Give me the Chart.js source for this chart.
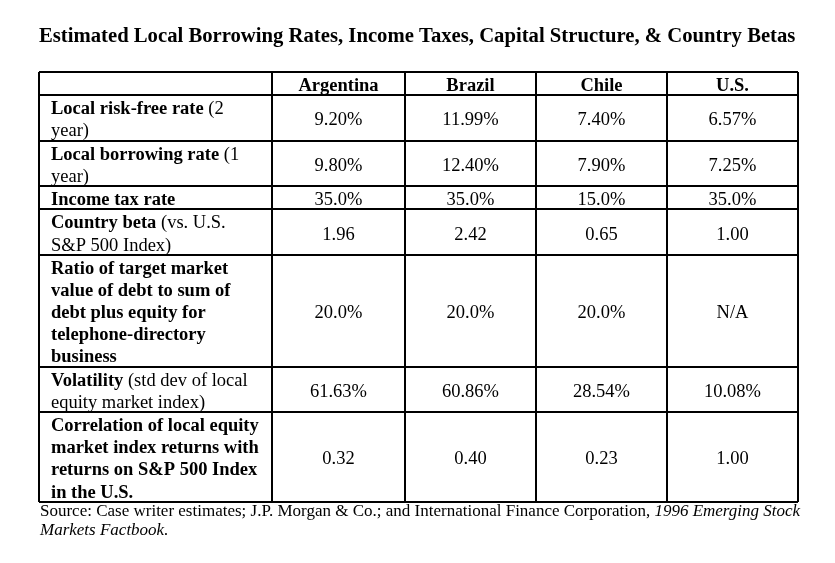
<!DOCTYPE html>
<html><head><meta charset="utf-8">
<script src="https://cdn.jsdelivr.net/npm/chart.js@4.4.1/dist/chart.umd.min.js"></script>
<style>html,body{margin:0;padding:0;background:#fff;} canvas{display:block;}</style>
</head><body>
<canvas id="c" width="835" height="563"></canvas>
<script>
// ---------- data ----------
const titleText = 'Estimated Local Borrowing Rates, Income Taxes, Capital Structure, & Country Betas';
const countries = ['Argentina', 'Brazil', 'Chile', 'U.S.'];
const rowLabels = [
  '**Local risk-free rate** (2\nyear)',
  '**Local borrowing rate** (1\nyear)',
  '**Income tax rate**',
  '**Country beta** (vs. U.S.\nS&P 500 Index)',
  '**Ratio of target market\nvalue of debt to sum of\ndebt plus equity for\ntelephone-directory\nbusiness**',
  '**Volatility** (std dev of local\nequity market index)',
  '**Correlation of local equity\nmarket index returns with\nreturns on S&P 500 Index\nin the U.S.**'
];
const argentina = [9.20, 9.80, 35.0, 1.96, 20.0, 61.63, 0.32];
const brazil    = [11.99, 12.40, 35.0, 2.42, 20.0, 60.86, 0.40];
const chile     = [7.40, 7.90, 15.0, 0.65, 20.0, 28.54, 0.23];
const us        = [6.57, 7.25, 35.0, 1.00, null, 10.08, 1.00];
const rowFormats = ['%2', '%2', '%1', '2', '%1', '%2', '2'];
const sourceLine1 = [['Source: Case writer estimates; J.P. Morgan & Co.; and International Finance Corporation, ', false], ['1996 Emerging Stock', true]];
const sourceLine2 = [['Markets Factbook.', true]];

// ---------- layout / style ----------
const FONT = '"Liberation Serif", "Times New Roman", serif';
const BODY_SIZE = 18.5;
const NOTE_SIZE = 17;
const TEXT_DY = 2.5;
const colWidths = [233, 133, 131, 131, 131];
const rowPad = 0.05;
const labelInset = 12;

const series = [argentina, brazil, chile, us];
const lineCounts = rowLabels.map(s => s.split('\n').length);
const rowEdges = [0, 1 + rowPad];
lineCounts.forEach(n => rowEdges.push(rowEdges[rowEdges.length - 1] + n + rowPad));
const colEdges = [0];
colWidths.forEach(w => colEdges.push(colEdges[colEdges.length - 1] + w));
const mid = (a, i) => (a[i] + a[i + 1]) / 2;

function fmt(v, f) {
  if (v === null || v === undefined) return 'N/A';
  return f.startsWith('%') ? v.toFixed(+f.slice(1)) + '%' : v.toFixed(+f);
}

const datasets = series.map((vals, c) => ({
  label: countries[c],
  data: vals.map((v, r) => ({ x: mid(colEdges, c + 1), y: mid(rowEdges, r + 1), text: fmt(v, rowFormats[r]) })),
  pointRadius: 0,
  pointHoverRadius: 0
}));

const tablePlugin = {
  id: 'tableText',
  afterDatasetsDraw(chart) {
    const { ctx, scales: { x, y } } = chart;
    const unitPx = Math.abs(y.getPixelForValue(1) - y.getPixelForValue(0));
    ctx.save();
    ctx.fillStyle = '#000';
    ctx.textBaseline = 'middle';
    // header
    ctx.font = 'bold ' + BODY_SIZE + 'px ' + FONT;
    ctx.textAlign = 'center';
    countries.forEach((name, c) => {
      ctx.fillText(name, x.getPixelForValue(mid(colEdges, c + 1)), y.getPixelForValue(mid(rowEdges, 0)) + TEXT_DY);
    });
    // values
    ctx.font = BODY_SIZE + 'px ' + FONT;
    chart.data.datasets.forEach((ds, i) => {
      const meta = chart.getDatasetMeta(i);
      meta.data.forEach((pt, j) => ctx.fillText(ds.data[j].text, pt.x, pt.y + TEXT_DY));
    });
    // row labels
    ctx.textAlign = 'left';
    rowLabels.forEach((lab, r) => {
      const lines = lab.split('\n');
      const cy = y.getPixelForValue(mid(rowEdges, r + 1)) + TEXT_DY;
      let bold = false;
      lines.forEach((line, k) => {
        const ly = cy + (k - (lines.length - 1) / 2) * unitPx;
        let lx = x.getPixelForValue(0) + labelInset;
        line.split('**').forEach((p, pi) => {
          if (pi > 0) bold = !bold;
          if (!p) return;
          ctx.font = (bold ? 'bold ' : '') + BODY_SIZE + 'px ' + FONT;
          ctx.fillText(p, lx, ly);
          lx += ctx.measureText(p).width;
        });
      });
    });
    // source note
    const drawRuns = (runs, ly) => {
      let lx = chart.chartArea.left + 1;
      runs.forEach(([t, it]) => {
        ctx.font = (it ? 'italic ' : '') + NOTE_SIZE + 'px ' + FONT;
        ctx.fillText(t, lx, ly);
        lx += ctx.measureText(t).width;
      });
    };
    drawRuns(sourceLine1, chart.chartArea.bottom + 10);
    drawRuns(sourceLine2, chart.chartArea.bottom + 29);
    ctx.restore();
  }
};

const edgeTicks = edges => scale => { scale.ticks = edges.map(v => ({ value: v })); };
const gridOpts = { color: '#000', lineWidth: 2, drawTicks: false, tickLength: 0 };

new Chart(document.getElementById('c'), {
  type: 'scatter',
  data: { datasets },
  options: {
    responsive: false,
    animation: false,
    devicePixelRatio: 1,
    events: [],
    layout: { padding: { left: 39, right: 37, top: 0, bottom: 61 } },
    plugins: {
      legend: { display: false },
      tooltip: { enabled: false },
      title: {
        display: true, text: titleText, align: 'start', color: '#000',
        font: { family: FONT, size: 20.7, weight: 'bold', lineHeight: 1.2 },
        padding: { top: 24, bottom: 23.2 }
      }
    },
    scales: {
      x: {
        type: 'linear', min: 0, max: colEdges[colEdges.length - 1],
        afterBuildTicks: edgeTicks(colEdges),
        ticks: { display: false }, grid: gridOpts, border: { display: false }
      },
      y: {
        type: 'linear', reverse: true, min: 0, max: rowEdges[rowEdges.length - 1],
        afterBuildTicks: edgeTicks(rowEdges),
        ticks: { display: false }, grid: gridOpts, border: { display: false }
      }
    }
  },
  plugins: [tablePlugin]
});
</script>
</body></html>
